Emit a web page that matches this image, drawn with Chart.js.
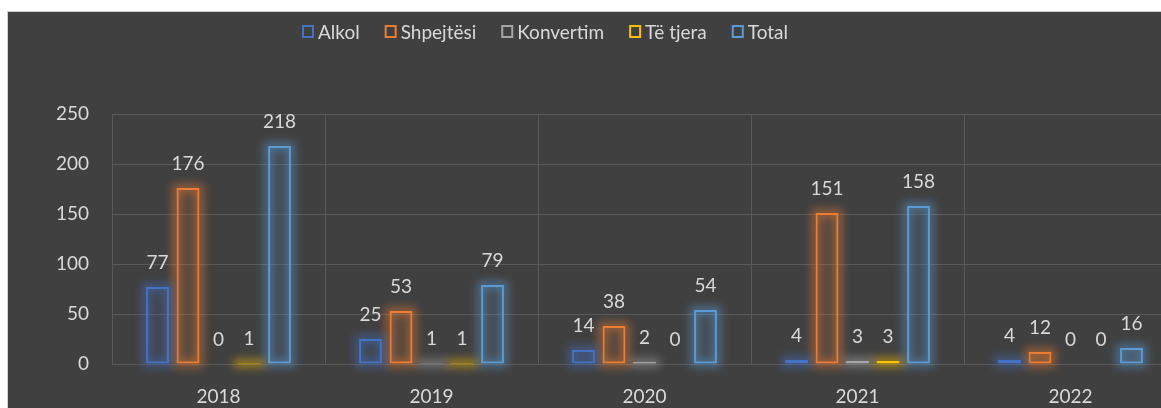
<!DOCTYPE html>
<html lang="sq">
<head>
<meta charset="UTF-8">
<title>Chart</title>
<script src="https://cdn.jsdelivr.net/npm/chart.js@4.4.0/dist/chart.umd.min.js"></script>
<style>
  html, body { margin: 0; padding: 0; background: #fff; overflow: hidden; width: 1161px; height: 408px; }
  #frame { position: absolute; left: 7px; top: 11px; width: 1170px; height: 396px; background: #404040; border: 1px solid #d0d0d0; }
  #chart { display: block; }
</style>
</head>
<body>
<div id="frame"><canvas id="chart" width="1170" height="396"></canvas></div>
<script>
// data
var years = ['2018', '2019', '2020', '2021', '2022'];
var alkol = [77, 25, 14, 4, 4];
var shpejtesi = [176, 53, 38, 151, 12];
var konvertim = [0, 1, 2, 3, 0];
var teTjera = [1, 1, 0, 3, 0];
var total = [218, 79, 54, 158, 16];
var seriesNames = ['Alkol', 'Shpejtësi', 'Konvertim', 'Të tjera', 'Total'];
var seriesColors = ['68,114,196', '237,125,49', '165,165,165', '255,192,0', '91,155,213'];

var txtColor = '#d9d9d9';
var fontFam = 'Lato, "Noto Sans", sans-serif';

function makeSet(i, values) {
  return {
    label: seriesNames[i],
    data: values,
    backgroundColor: 'rgba(' + seriesColors[i] + ',0.14)',
    borderColor: 'rgb(' + seriesColors[i] + ')',
    borderWidth: 2,
    borderSkipped: false,
    categoryPercentage: 0.716,
    barPercentage: 0.75
  };
}

// soft glow round each bar, like the office chart effect
var glow = {
  id: 'glow',
  beforeDatasetDraw(chart, args) {
    var ctx = chart.ctx;
    var col = seriesColors[args.index];
    ctx.save();
    ctx.filter = 'blur(4px)';
    ctx.strokeStyle = 'rgba(' + col + ',0.5)';
    ctx.lineWidth = 8;
    args.meta.data.forEach(function (el) {
      var p = el.getProps(['x', 'y', 'base', 'width'], true);
      if (p.base - p.y < 0.5) return;
      ctx.strokeRect(p.x - p.width / 2, p.y, p.width, p.base - p.y);
    });
    ctx.restore();
  }
};

// value labels on top of the bars
var valueLabels = {
  id: 'valueLabels',
  afterDatasetsDraw(chart) {
    var ctx = chart.ctx;
    ctx.save();
    ctx.font = '19px ' + fontFam;
    ctx.fillStyle = txtColor;
    ctx.textAlign = 'center';
    ctx.textBaseline = 'alphabetic';
    chart.data.datasets.forEach(function (ds, i) {
      chart.getDatasetMeta(i).data.forEach(function (el, j) {
        ctx.fillText(String(ds.data[j]), el.x, el.y - 18);
      });
    });
    ctx.restore();
  }
};

// legend at the top
var topLegend = {
  id: 'topLegend',
  afterDraw(chart) {
    var ctx = chart.ctx;
    ctx.save();
    ctx.font = '19px ' + fontFam;
    var box = 12, gapIn = 4, gapOut = 25;
    var widths = seriesNames.map(function (n) { return ctx.measureText(n).width; });
    var totalW = 0;
    widths.forEach(function (w, i) { totalW += box + gapIn + w + (i < widths.length - 1 ? gapOut : 0); });
    var x = 537 - totalW / 2, y = 20;
    ctx.textBaseline = 'middle';
    seriesNames.forEach(function (n, i) {
      ctx.strokeStyle = 'rgb(' + seriesColors[i] + ')';
      ctx.lineWidth = 2;
      ctx.strokeRect(x + 1, y - box / 2, box - 2, box - 1);
      ctx.fillStyle = txtColor;
      ctx.fillText(n, x + box + gapIn, y + 1);
      x += box + gapIn + widths[i] + gapOut;
    });
    ctx.restore();
  }
};

new Chart(document.getElementById('chart'), {
  type: 'bar',
  data: {
    labels: years,
    datasets: [
      makeSet(0, alkol),
      makeSet(1, shpejtesi),
      makeSet(2, konvertim),
      makeSet(3, teTjera),
      makeSet(4, total)
    ]
  },
  options: {
    responsive: false,
    animation: false,
    layout: { padding: { top: 102, right: 1, left: 0, bottom: 0 } },
    plugins: { legend: { display: false }, tooltip: { enabled: false } },
    scales: {
      x: {
        grid: { color: '#595959', lineWidth: 1, drawTicks: false, offset: true },
        border: { display: false },
        ticks: { color: txtColor, font: { family: fontFam, size: 19 }, padding: 21 },
        afterFit(scale) { scale.height = 44; }
      },
      y: {
        min: 0,
        max: 250,
        ticks: { stepSize: 50, color: txtColor, font: { family: fontFam, size: 19 }, padding: 23 },
        grid: { color: '#595959', lineWidth: 1, drawTicks: false },
        border: { display: false },
        afterFit(scale) { scale.width = 104; }
      }
    }
  },
  plugins: [glow, valueLabels, topLegend]
});
</script>
</body>
</html>
